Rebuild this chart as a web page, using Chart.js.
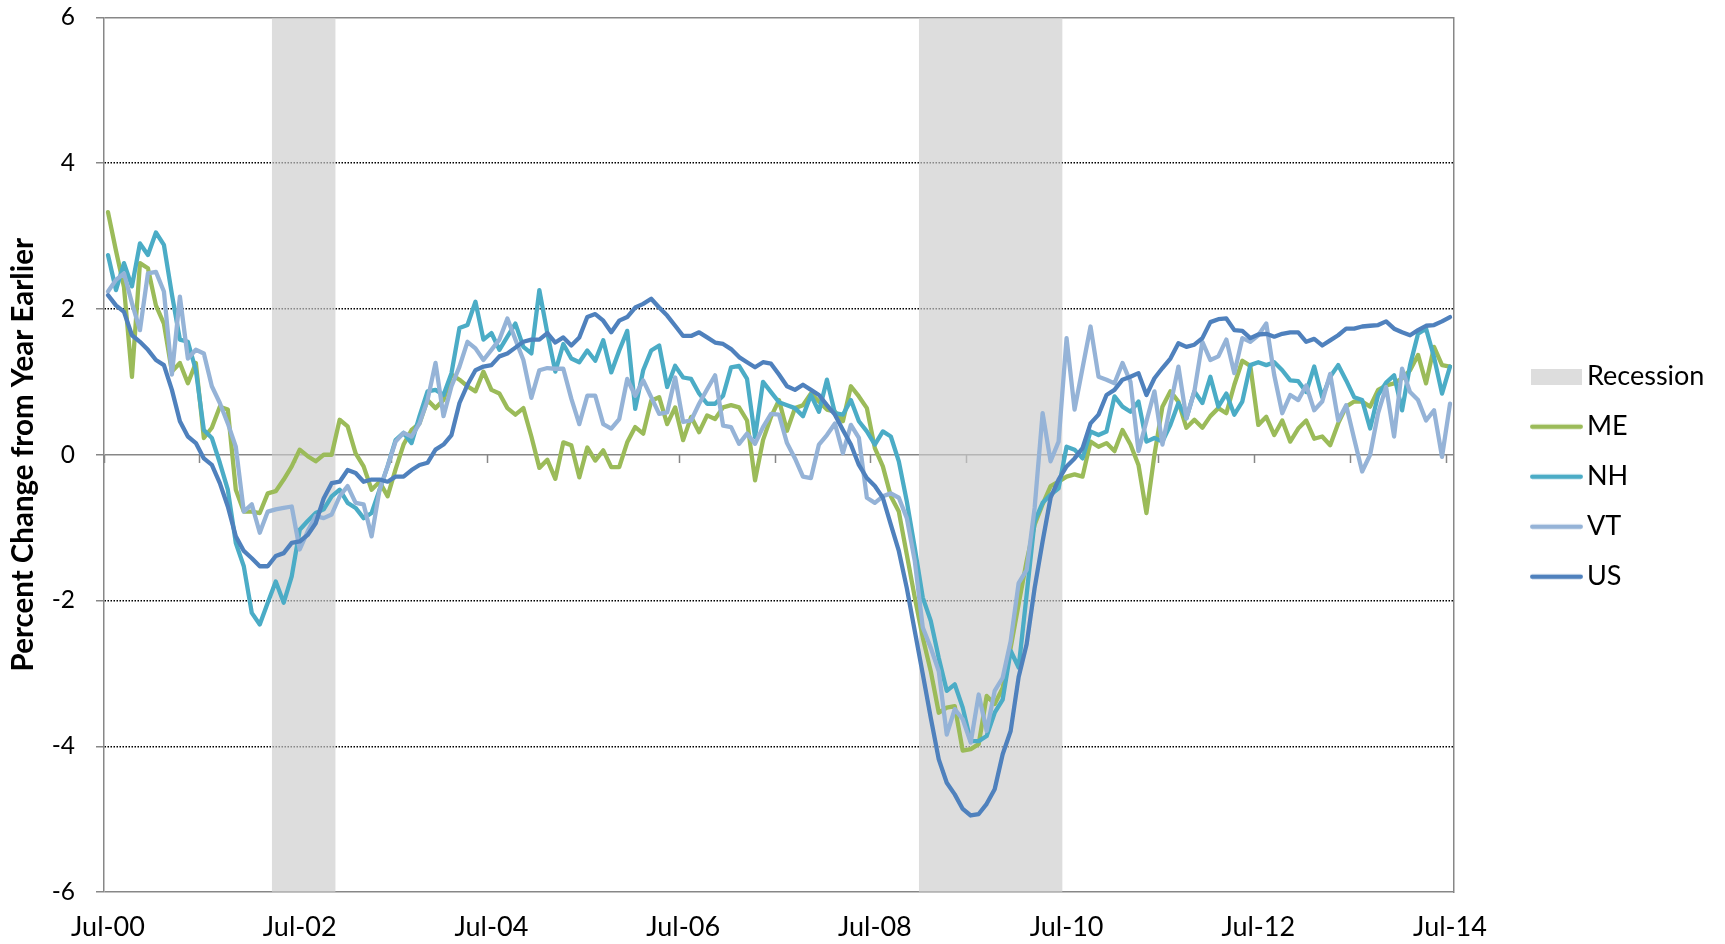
<!DOCTYPE html>
<html>
<head>
<meta charset="utf-8">
<script src="https://cdn.jsdelivr.net/npm/chart.js@4.4.1/dist/chart.umd.min.js"></script>
<style>
  html, body { margin: 0; padding: 0; background: #ffffff; overflow: hidden; }
  #wrap { width: 1725px; height: 944px; overflow: hidden; }
  canvas { display: block; }
</style>
</head>
<body>
<div id="wrap"><canvas id="c" width="1725" height="944"></canvas></div>
<script>
// ---------- categories ----------
const monthNames = ['Jan','Feb','Mar','Apr','May','Jun','Jul','Aug','Sep','Oct','Nov','Dec'];
const firstMonth = 'Jul-00';
const lastMonth = 'Jul-14';
const labels = [];
(function buildLabels() {
  let m = monthNames.indexOf(firstMonth.slice(0, 3));
  let y = parseInt(firstMonth.slice(4), 10);
  while (true) {
    const lab = monthNames[m] + '-' + String(y).padStart(2, '0');
    labels.push(lab);
    if (lab === lastMonth) break;
    m++; if (m === 12) { m = 0; y++; }
  }
})();

// ---------- tick labels ----------
const xTickLabels = ['Jul-00','Jul-02','Jul-04','Jul-06','Jul-08','Jul-10','Jul-12','Jul-14'];
const yMin = -6, yMax = 6, yStep = 2;

// ---------- recession periods (shaded months) ----------
const recessionStart = ['Apr-02', 'Jan-09'];
const recessionEnd   = ['Nov-02', 'Jun-10'];

// ---------- series values (percent change from year earlier) ----------
const me = [
  3.33, 2.8, 2.3, 1.07, 2.63, 2.56, 2.05, 1.8, 1.14, 1.26,
  0.98, 1.26, 0.23, 0.37, 0.66, 0.62, -0.48, -0.78, -0.78, -0.8,
  -0.53, -0.5, -0.34, -0.16, 0.07, -0.02, -0.09, 0, 0, 0.48,
  0.39, 0.02, -0.16, -0.48, -0.37, -0.57, -0.2, 0.14, 0.34, 0.43,
  0.75, 0.64, 0.75, 1.1, 1.03, 0.94, 0.87, 1.14, 0.89, 0.84,
  0.64, 0.55, 0.64, 0.25, -0.18, -0.07, -0.33, 0.17, 0.13, -0.31,
  0.1, -0.08, 0.06, -0.17, -0.17, 0.17, 0.38, 0.29, 0.74, 0.79,
  0.42, 0.65, 0.2, 0.52, 0.31, 0.54, 0.49, 0.65, 0.68, 0.65,
  0.47, -0.35, 0.2, 0.52, 0.75, 0.33, 0.64, 0.68, 0.84, 0.73,
  0.62, 0.59, 0.46, 0.94, 0.8, 0.64, 0.09, -0.16, -0.57, -0.78,
  -1.37, -1.96, -2.51, -2.97, -3.54, -3.47, -3.45, -4.06, -4.04, -3.97,
  -3.31, -3.42, -3.2, -2.65, -2.05, -1.46, -0.96, -0.68, -0.43, -0.37,
  -0.3, -0.27, -0.3, 0.18, 0.11, 0.16, 0.05, 0.34, 0.14, -0.14,
  -0.8, 0, 0.66, 0.87, 0.73, 0.37, 0.48, 0.37, 0.53, 0.64,
  0.57, 0.96, 1.29, 1.22, 0.41, 0.52, 0.27, 0.47, 0.18, 0.36,
  0.47, 0.22, 0.25, 0.13, 0.43, 0.66, 0.73, 0.73, 0.66, 0.89,
  0.95, 0.98, 1.05, 1.16, 1.37, 0.98, 1.48, 1.23, 1.21
];
const nh = [
  2.74, 2.26, 2.63, 2.31, 2.9, 2.74, 3.05, 2.88, 2.2, 1.58,
  1.55, 1.16, 0.34, 0.23, -0.11, -0.48, -1.21, -1.53, -2.17, -2.33,
  -2.03, -1.74, -2.03, -1.67, -1.03, -0.91, -0.8, -0.75, -0.57, -0.48,
  -0.66, -0.73, -0.87, -0.8, -0.48, -0.16, 0.2, 0.3, 0.16, 0.53,
  0.87, 0.89, 0.82, 1.12, 1.74, 1.78, 2.1, 1.58, 1.67, 1.44,
  1.62, 1.8, 1.48, 1.39, 2.26, 1.67, 1.14, 1.52, 1.32, 1.27,
  1.43, 1.29, 1.57, 1.13, 1.43, 1.7, 0.63, 1.16, 1.43, 1.5,
  0.93, 1.22, 1.06, 1.04, 0.84, 0.7, 0.7, 0.81, 1.2, 1.22,
  1.04, 0.24, 1.0, 0.86, 0.72, 0.68, 0.64, 0.53, 0.82, 0.59,
  1.03, 0.57, 0.55, 0.75, 0.46, 0.32, 0.14, 0.32, 0.25, -0.09,
  -0.64, -1.28, -1.96, -2.28, -2.79, -3.24, -3.15, -3.47, -3.93, -3.93,
  -3.86, -3.54, -3.36, -2.69, -2.92, -1.92, -0.91, -0.66, -0.55, -0.46,
  0.11, 0.07, -0.05, 0.32, 0.27, 0.32, 0.8, 0.66, 0.59, 0.73,
  0.18, 0.23, 0.18, 0.41, 0.71, 0.5, 0.87, 0.71, 1.07, 0.66,
  0.84, 0.55, 0.73, 1.23, 1.27, 1.23, 1.27, 1.16, 1.02, 1.01,
  0.86, 1.21, 0.79, 1.07, 1.23, 1.02, 0.79, 0.75, 0.36, 0.82,
  0.99, 1.09, 0.61, 1.23, 1.66, 1.73, 1.34, 0.84, 1.21
];
const vt = [
  2.24, 2.4, 2.49, 2.08, 1.71, 2.49, 2.51, 2.24, 1.1, 2.17,
  1.32, 1.44, 1.39, 0.94, 0.71, 0.43, 0.11, -0.78, -0.68, -1.07,
  -0.78, -0.75, -0.73, -0.71, -1.3, -1.05, -0.84, -0.87, -0.82, -0.57,
  -0.43, -0.66, -0.68, -1.12, -0.48, -0.16, 0.18, 0.3, 0.25, 0.43,
  0.75, 1.26, 0.53, 0.94, 1.21, 1.55, 1.46, 1.3, 1.44, 1.58,
  1.87, 1.58, 1.3, 0.78, 1.16, 1.19, 1.18, 1.18, 0.77, 0.42,
  0.81, 0.81, 0.42, 0.36, 0.49, 1.04, 0.81, 1.02, 0.79, 0.56,
  0.58, 1.06, 0.45, 0.47, 0.7, 0.9, 1.09, 0.4, 0.38, 0.15,
  0.29, 0.15, 0.38, 0.56, 0.55, 0.16, -0.05, -0.3, -0.32, 0.14,
  0.27, 0.43, 0.02, 0.41, 0.23, -0.59, -0.66, -0.57, -0.53, -0.59,
  -0.87, -1.46, -2.37, -2.65, -2.97, -3.84, -3.49, -3.63, -3.95, -3.29,
  -3.79, -3.24, -3.06, -2.56, -1.76, -1.58, -0.73, 0.57, -0.09, 0.18,
  1.6, 0.62, 1.19, 1.76, 1.07, 1.03, 0.98, 1.26, 1.0, 0.05,
  0.46, 0.87, 0.14, 0.68, 1.21, 0.5, 0.87, 1.55, 1.3, 1.35,
  1.58, 1.12, 1.6, 1.55, 1.64, 1.8, 1.09, 0.57, 0.82, 0.75,
  0.95, 0.61, 0.73, 1.11, 0.47, 0.68, 0.22, -0.23, 0, 0.57,
  0.93, 0.25, 1.18, 0.86, 0.75, 0.47, 0.61, -0.03, 0.7
];
const us = [
  2.19, 2.05, 1.96, 1.64, 1.55, 1.44, 1.3, 1.23, 0.89, 0.46,
  0.25, 0.16, -0.05, -0.14, -0.39, -0.71, -1.12, -1.32, -1.42, -1.53,
  -1.53, -1.39, -1.35, -1.21, -1.19, -1.1, -0.94, -0.6, -0.39, -0.37,
  -0.21, -0.25, -0.37, -0.34, -0.34, -0.37, -0.3, -0.3, -0.21, -0.14,
  -0.11, 0.07, 0.14, 0.27, 0.71, 0.96, 1.16, 1.21, 1.23, 1.35,
  1.39, 1.47, 1.55, 1.58, 1.58, 1.67, 1.54, 1.61, 1.5, 1.61,
  1.89, 1.93, 1.84, 1.68, 1.84, 1.89, 2.02, 2.07, 2.14, 2.02,
  1.91, 1.77, 1.63, 1.63, 1.68, 1.61, 1.54, 1.52, 1.45, 1.34,
  1.27, 1.2, 1.27, 1.25, 1.1, 0.94, 0.89, 0.96, 0.89, 0.82,
  0.68, 0.55, 0.34, 0.14, -0.14, -0.32, -0.43, -0.59, -0.96, -1.32,
  -1.83, -2.42, -3.01, -3.61, -4.18, -4.5, -4.66, -4.86, -4.95, -4.93,
  -4.79, -4.59, -4.11, -3.79, -3.05, -2.6, -1.83, -1.19, -0.59, -0.34,
  -0.16, -0.05, 0.09, 0.43, 0.55, 0.82, 0.89, 1.03, 1.07, 1.12,
  0.82, 1.05, 1.19, 1.32, 1.53, 1.48, 1.51, 1.6, 1.82, 1.86,
  1.87, 1.71, 1.7, 1.6, 1.65, 1.66, 1.62, 1.66, 1.68, 1.68,
  1.55, 1.59, 1.5, 1.57, 1.64, 1.73, 1.73, 1.76, 1.77, 1.78,
  1.83, 1.73, 1.68, 1.64, 1.71, 1.77, 1.78, 1.83, 1.89
];

// ---------- recession shading: one filled band per period, spanning whole months ----------
const recessionBand = [];
recessionStart.forEach((s, k) => {
  const i0 = labels.indexOf(s), i1 = labels.indexOf(recessionEnd[k]);
  if (k > 0) recessionBand.push({ x: i0 - 1, y: null });
  recessionBand.push({ x: i0 - 0.5, y: yMax });
  recessionBand.push({ x: i1 + 0.5, y: yMax });
});

// ---------- styles ----------
const colors = { me: '#9BBB59', nh: '#4BACC6', vt: '#95B3D7', us: '#4F81BD', rec: 'rgba(204,204,204,0.667)' };
const axisGray = '#878787';
const FONT = 'Lato';
const LINE_W = 4.3;
Chart.defaults.font.family = FONT;
Chart.defaults.color = '#000';

// legend markers (drawn by the legend as point-style images)
function lineMarker(color) {
  const c = document.createElement('canvas'); c.width = 53; c.height = 8;
  const g = c.getContext('2d');
  g.strokeStyle = color; g.lineWidth = LINE_W; g.lineCap = 'round';
  g.beginPath(); g.moveTo(LINE_W / 2, 4); g.lineTo(53 - LINE_W / 2, 4); g.stroke();
  return c;
}
function rectMarker(color) {
  const c = document.createElement('canvas'); c.width = 51; c.height = 16;
  const g = c.getContext('2d'); g.fillStyle = color; g.fillRect(0, 0, 51, 16);
  return c;
}

// legend geometry
const legendFontSize = 27, legendPad = 23, legendBoxW = 34;
const mctx = document.createElement('canvas').getContext('2d');
mctx.font = legendFontSize + 'px ' + FONT;
const legendTextW = Math.max(...['Recession', 'ME', 'NH', 'VT', 'US'].map(t => mctx.measureText(t).width));
const plotRight = 1454, legendItemX = 1539.5, canvasW = 1725;
const rightGap = legendItemX - legendPad - plotRight;
const legendW = legendPad + legendBoxW + legendFontSize / 2 + legendTextW + 10;
const rightPad = Math.max(0, canvasW - (legendItemX - legendPad) - legendW);

const lineStyle = {
  type: 'line', borderWidth: LINE_W, pointRadius: 0, pointHoverRadius: 0, tension: 0,
  borderJoinStyle: 'round', borderCapStyle: 'round', fill: false,
  xAxisID: 'x', yAxisID: 'y'
};
const isEdgeOrZero = c => c.tick && (c.tick.value === 0 || Math.abs(c.tick.value) === yMax);

new Chart(document.getElementById('c'), {
  type: 'line',
  data: {
    labels: labels,
    datasets: [
      { label: 'Recession', type: 'line', data: recessionBand, xAxisID: 'xRec', yAxisID: 'y',
        parsing: false, fill: 'start', backgroundColor: colors.rec, borderColor: 'rgba(0,0,0,0)',
        borderWidth: 0, pointRadius: 0, pointHoverRadius: 0, spanGaps: false, tension: 0,
        pointStyle: rectMarker('#dddddd'), order: 4 },
      Object.assign({ label: 'ME', data: me, borderColor: colors.me, backgroundColor: colors.me, pointStyle: lineMarker(colors.me), order: 3 }, lineStyle),
      Object.assign({ label: 'NH', data: nh, borderColor: colors.nh, backgroundColor: colors.nh, pointStyle: lineMarker(colors.nh), order: 2 }, lineStyle),
      Object.assign({ label: 'VT', data: vt, borderColor: colors.vt, backgroundColor: colors.vt, pointStyle: lineMarker(colors.vt), order: 1 }, lineStyle),
      Object.assign({ label: 'US', data: us, borderColor: colors.us, backgroundColor: colors.us, pointStyle: lineMarker(colors.us), order: 0 }, lineStyle)
    ]
  },
  options: {
    responsive: false,
    animation: false,
    devicePixelRatio: 1,
    layout: { padding: { top: 17.5, right: rightPad, bottom: 8, left: 0 } },
    plugins: {
      legend: {
        position: 'right', align: 'center', reverse: true,
        labels: { usePointStyle: true, pointStyleWidth: legendBoxW, boxHeight: 16, padding: legendPad,
                  font: { size: legendFontSize }, color: '#000' }
      },
      tooltip: { enabled: false }
    },
    scales: {
      x: {
        type: 'category', offset: true, position: 'bottom',
        grid: { display: false, drawTicks: false, drawOnChartArea: false },
        border: { display: false },
        ticks: { autoSkip: false, maxRotation: 0, minRotation: 0, padding: 19.5, font: { size: 27 }, color: '#000',
                 callback: (v, i) => (xTickLabels.includes(labels[i]) ? labels[i] : '') },
        afterFit: s => { s.height = 44; }
      },
      xRec: {
        axis: 'x', type: 'linear', display: false, min: -0.5, max: labels.length - 0.5
      },
      xZero: {
        axis: 'x', type: 'category', offset: true, position: { y: 0 },
        grid: { display: true, drawOnChartArea: false, drawTicks: true, tickLength: 8, offset: true,
                tickColor: c => (c.index % 12 === 0 ? axisGray : 'rgba(0,0,0,0)'), tickWidth: 1.5 },
        border: { display: false },
        ticks: { display: false, autoSkip: false }
      },
      y: {
        type: 'linear', position: 'left', min: yMin, max: yMax,
        ticks: { stepSize: yStep, padding: 21, font: { size: 24.5 }, color: '#000' },
        grid: {
          drawTicks: true, tickLength: 8, tickColor: axisGray, tickWidth: 1.5,
          color: c => (isEdgeOrZero(c) ? axisGray : '#000'),
          lineWidth: c => (isEdgeOrZero(c) ? 1.5 : 1.5)
        },
        border: { display: true, color: axisGray, width: 1.5,
                  dash: c => (c.tick && !isEdgeOrZero(c) ? [1.5, 1.5] : []) },
        title: { display: true, text: 'Percent Change from Year Earlier', color: '#000',
                 font: { size: 29.5, weight: 'bold' }, padding: { top: 6, bottom: 0 } },
        afterFit: s => { s.width = 104; s.paddingTop = 0; s.paddingBottom = 0; }
      },
      yRight: {
        axis: 'y', type: 'linear', position: 'right', min: yMin, max: yMax,
        ticks: { display: false },
        grid: { display: false, drawTicks: false, drawOnChartArea: false },
        border: { display: true, color: axisGray, width: 1.5 },
        afterFit: s => { s.width = rightGap; s.paddingTop = 0; s.paddingBottom = 0; }
      }
    }
  }
});
</script>
</body>
</html>
